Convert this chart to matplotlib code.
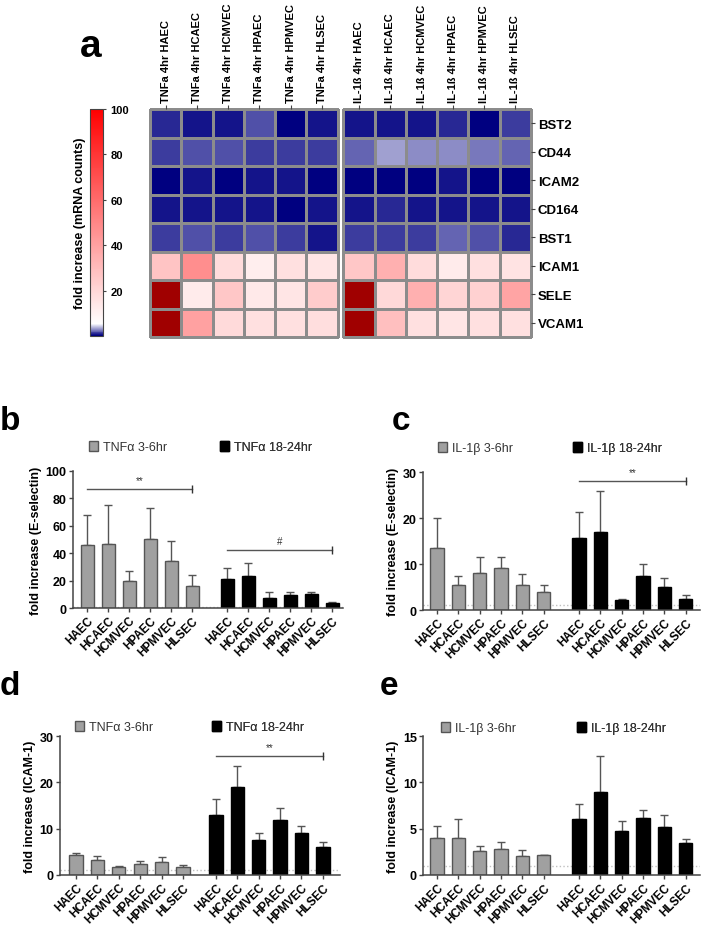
import numpy as np
import matplotlib
matplotlib.use("Agg")
import matplotlib.pyplot as plt
from matplotlib.colors import LinearSegmentedColormap, Normalize
from matplotlib.patches import Patch

plt.rcParams['font.family'] = ['Liberation Sans', 'DejaVu Sans']

# ---- data -------------------------------------------------------------
cells = ['HAEC', 'HCAEC', 'HCMVEC', 'HPAEC', 'HPMVEC', 'HLSEC']
genes = ['BST2', 'CD44', 'ICAM2', 'CD164', 'BST1', 'ICAM1', 'SELE', 'VCAM1']
tnf_cols = ['TNFa 4hr ' + c for c in cells]
il_cols = ['IL-1ß 4hr ' + c for c in cells]

# fold increase (mRNA counts), rows = genes, cols = cells
heat_tnf = np.array([
    [0.80, 0.60, 0.50, 1.75, 0.00, 0.65],
    [1.35, 1.80, 1.90, 1.50, 1.40, 1.55],
    [0.25, 0.40, 0.35, 0.60, 0.45, 0.30],
    [0.55, 0.60, 0.40, 0.65, 0.35, 0.40],
    [1.40, 1.85, 1.55, 1.90, 1.40, 0.65],
    [27.0, 47.0, 18.0, 11.5, 16.5, 14.5],
    [150., 12.5, 26.0, 13.5, 14.5, 24.0],
    [150., 40.0, 19.0, 16.5, 16.5, 17.5],
])
heat_il = np.array([
    [0.60, 0.45, 0.75, 1.10, 0.25, 1.50],
    [2.20, 3.50, 3.00, 3.10, 2.45, 2.30],
    [0.00, 0.25, 0.20, 0.45, 0.30, 0.35],
    [0.60, 0.80, 0.50, 0.70, 0.45, 0.50],
    [1.55, 1.20, 1.55, 2.30, 1.75, 0.90],
    [26.0, 34.5, 18.0, 12.5, 16.5, 15.5],
    [150., 19.5, 34.5, 21.0, 22.0, 39.0],
    [150., 29.0, 16.5, 14.5, 16.5, 16.5],
])

# E-selectin, TNFa
esel_tnf_early = [45.8, 47.0, 20.0, 50.6, 34.5, 16.4]
esel_tnf_early_sd = [22.2, 28.0, 7.0, 22.4, 14.2, 7.6]
esel_tnf_late = [21.4, 23.0, 7.5, 9.5, 10.0, 4.0]
esel_tnf_late_sd = [7.6, 9.5, 4.5, 2.5, 2.0, 0.5]
# E-selectin, IL-1b
esel_il_early = [13.4, 5.5, 8.0, 9.2, 5.5, 3.9]
esel_il_early_sd = [6.6, 1.9, 3.6, 2.4, 2.4, 1.6]
esel_il_late = [15.7, 16.9, 2.1, 7.5, 5.0, 2.4]
esel_il_late_sd = [5.5, 8.9, 0.3, 2.5, 1.9, 0.9]
# ICAM-1, TNFa
icam_tnf_early = [4.3, 3.2, 1.7, 2.3, 2.9, 1.8]
icam_tnf_early_sd = [0.5, 0.8, 0.2, 0.8, 1.0, 0.4]
icam_tnf_late = [12.9, 19.1, 7.6, 11.9, 9.0, 6.1]
icam_tnf_late_sd = [3.6, 4.5, 1.4, 2.6, 1.6, 1.1]
# ICAM-1, IL-1b
icam_il_early = [3.96, 4.0, 2.55, 2.8, 2.0, 2.15]
icam_il_early_sd = [1.34, 2.05, 0.55, 0.8, 0.7, 0.05]
icam_il_late = [6.05, 9.0, 4.8, 6.2, 5.15, 3.4]
icam_il_late_sd = [1.6, 3.8, 1.0, 0.85, 1.35, 0.5]

# ---- figure -------------------------------------------------------------
W, H = 702, 928
fig = plt.figure(figsize=(W / 100, H / 100), dpi=100)


def px_axes(x0, y0, x1, y1):
    return fig.add_axes([x0 / W, 1 - y1 / H, (x1 - x0) / W, (y1 - y0) / H])


# heatmap
cmap = LinearSegmentedColormap.from_list('bwr_custom', [(0, '#000080'), (0.05, '#ffffff'), (1, '#ff0000')])
cmap.set_over('#a00000')
norm = Normalize(vmin=0, vmax=100)

gap = 0.19
ax = px_axes(150, 110, 531, 338)
rows = np.arange(len(genes) + 1)
mesh = ax.pcolormesh(np.arange(7), rows, heat_tnf, cmap=cmap, norm=norm,
                     edgecolors='#8c8c8c', linewidth=1.0, clip_on=False)
ax.pcolormesh(np.arange(7) + 6 + gap, rows, heat_il, cmap=cmap, norm=norm,
              edgecolors='#8c8c8c', linewidth=1.0, clip_on=False)
ax.set_xlim(0, 12 + gap)
ax.set_ylim(len(genes), 0)
for s in ax.spines.values():
    s.set_visible(False)
ax.xaxis.tick_top()
ax.yaxis.tick_right()
ax.set_xticks(list(np.arange(6) + 0.5) + list(np.arange(6) + 6.5 + gap))
ax.set_xticklabels(tnf_cols + il_cols, rotation=90, fontsize=8, fontweight='bold')
ax.set_yticks(np.arange(len(genes)) + 0.5)
ax.set_yticklabels(genes, fontsize=9.5, fontweight='bold')
ax.tick_params(length=3, width=0.8, color='#444444', pad=2)

cax = px_axes(90, 110, 103, 337)
cb = fig.colorbar(mesh, cax=cax, ticks=[20, 40, 60, 80, 100])
cb.outline.set_edgecolor('#444444')
cb.ax.tick_params(labelsize=8, length=2.5, color='#444444', pad=3)
for t in cb.ax.get_yticklabels():
    t.set_fontweight('bold')
cax.yaxis.set_label_position('left')
cb.set_label('fold increase (mRNA counts)', fontsize=9, fontweight='bold', labelpad=3)

fig.text(80 / W, 1 - 57 / H, 'a', fontsize=28, fontweight='bold', va='baseline')


# bar panels
def bar_panel(box, early, early_sd, late, late_sd, offset, ylim, yticks, ylabel,
              labels, leg_y, leg_x, sigs):
    ax = px_axes(*box[:4])
    xe = np.arange(len(cells))
    xl = xe + offset
    ax.errorbar(xe, early, yerr=[np.zeros(6), early_sd], fmt='none', ecolor='#555555',
                elinewidth=1, capsize=3, capthick=1, zorder=1)
    ax.errorbar(xl, late, yerr=[np.zeros(6), late_sd], fmt='none', ecolor='#555555',
                elinewidth=1, capsize=3, capthick=1, zorder=1)
    ax.bar(xe, early, width=0.62, color='#a0a0a0', edgecolor='#555555', linewidth=1, zorder=2)
    ax.bar(xl, late, width=0.62, color='black', edgecolor='black', linewidth=1, zorder=2)
    ax.axhline(1, color='#c0c0c0', linestyle=':', linewidth=1, zorder=0)
    ax.set_xlim(*box[4])
    ax.set_ylim(*ylim)
    ax.set_yticks(yticks)
    ax.set_xticks(list(xe) + list(xl))
    ax.set_xticklabels(cells + cells, rotation=45, ha='right', rotation_mode='anchor',
                       fontsize=8.5, fontweight='bold')
    for t in ax.get_yticklabels():
        t.set_fontweight('bold')
        t.set_fontsize(9)
    ax.set_ylabel(ylabel, fontsize=9, fontweight='bold', labelpad=3)
    for s in ['top', 'right']:
        ax.spines[s].set_visible(False)
    for s in ['left', 'bottom']:
        ax.spines[s].set_color('#444444')
        ax.spines[s].set_linewidth(1.1)
    ax.tick_params(length=3, width=1, color='#444444', pad=1.5)
    for txt, grp, yv in sigs:
        xs = xe if grp == 'early' else xl
        ax.plot([xs[0], xs[-1]], [yv, yv], color='#555555', linewidth=1, clip_on=False)
        ax.plot([xs[-1]], [yv], marker='|', markersize=6, color='#333333', clip_on=False)
        ax.text((xs[0] + xs[-1]) / 2, yv + (ylim[1] - ylim[0]) * 0.03, txt,
                ha='center', va='bottom', fontsize=7, color='#333333')
    handles = [Patch(facecolor='#a0a0a0', edgecolor='#555555'),
               Patch(facecolor='black', edgecolor='black')]
    for h, lab, lx in zip(handles, labels, leg_x):
        leg = ax.legend([h], [lab], loc='center left', bbox_to_anchor=(lx, leg_y),
                        frameon=False, fontsize=9, handlelength=0.7, handleheight=0.9,
                        handletextpad=0.4, borderpad=0, borderaxespad=0, labelcolor='#333333')
        ax.add_artist(leg)
    return ax


bar_panel((73, 472, 343, 609, (-0.67, 12.19)), esel_tnf_early, esel_tnf_early_sd,
          esel_tnf_late, esel_tnf_late_sd, 6.67, (0, 100), [0, 20, 40, 60, 80, 100],
          'fold increase (E-selectin)', ['TNFα 3-6hr', 'TNFα 18-24hr'], 1.175, (0.06, 0.544),
          [('**', 'early', 87), ('#', 'late', 42)])
bar_panel((423, 473, 700, 611, (-0.66, 12.35)), esel_il_early, esel_il_early_sd,
          esel_il_late, esel_il_late_sd, 6.67, (0, 30), [0, 10, 20, 30],
          'fold increase (E-selectin)', ['IL-1β 3-6hr', 'IL-1β 18-24hr'], 1.174, (0.054, 0.542),
          [('**', 'late', 28)])
bar_panel((60, 737, 340, 876, (-0.75, 12.34)), icam_tnf_early, icam_tnf_early_sd,
          icam_tnf_late, icam_tnf_late_sd, 6.54, (0, 30), [0, 10, 20, 30],
          'fold increase (ICAM-1)', ['TNFα 3-6hr', 'TNFα 18-24hr'], 1.065, (0.054, 0.543),
          [('**', 'late', 25.7)])
bar_panel((423, 737, 700, 876, (-0.66, 12.35)), icam_il_early, icam_il_early_sd,
          icam_il_late, icam_il_late_sd, 6.67, (0, 15), [0, 5, 10, 15],
          'fold increase (ICAM-1)', ['IL-1β 3-6hr', 'IL-1β 18-24hr'], 1.058, (0.065, 0.556),
          [])

fig.text(0 / W, 1 - 430 / H, 'b', fontsize=24, fontweight='bold', va='baseline')
fig.text(392 / W, 1 - 430 / H, 'c', fontsize=24, fontweight='bold', va='baseline')
fig.text(0 / W, 1 - 695 / H, 'd', fontsize=24, fontweight='bold', va='baseline')
fig.text(380 / W, 1 - 695 / H, 'e', fontsize=24, fontweight='bold', va='baseline')

fig.savefig('out.png', dpi=100)
